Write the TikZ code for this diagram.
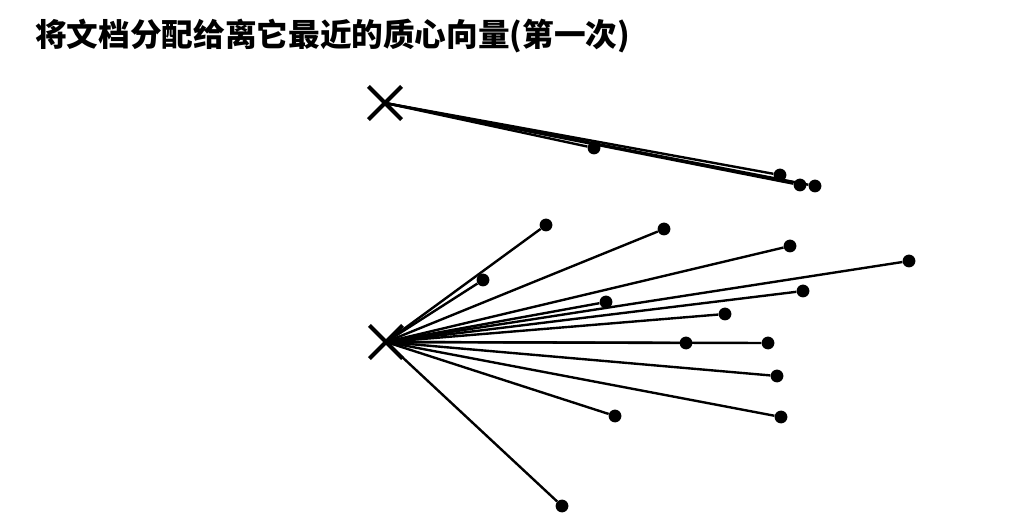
\documentclass[tikz,border=0pt]{standalone}
\usepackage{fontspec}
\newfontfamily\cjk{Noto Sans CJK SC}
\usetikzlibrary{shapes.misc}
\tikzset{
  doc/.style = {circle, fill = black, inner sep = 0pt, minimum size = 0.32cm},
  centroid/.style = {cross out, draw = black, line width = 3pt, inner sep = 0pt, minimum size = 0.72cm},
  link/.style = {line width = 1.7pt}
}
\begin{document}
\begin{tikzpicture}[x = 0.025cm, y = -0.025cm]
                    \useasboundingbox (0, 0) rectangle (1020, 530);
                    \node[anchor = base west, inner sep = 0pt] (title) at (35, 47)
                        {\cjk\bfseries\fontsize{22.5}{27}\selectfont 将文档分配给离它最近的质心向量(第一次)};

                    % first centroid and its documents
                    \node[centroid] (c1) at (385, 103) {};
                    \node[doc] (a1) at (594, 148) {};
                    \node[doc] (a2) at (780, 175) {};
                    \node[doc] (a3) at (800, 185) {};
                    \node[doc] (a4) at (815, 186) {};

                    \draw[link] (c1.center) -- (a1);
                    \draw[link] (c1.center) -- (a2);
                    \draw[link] (c1.center) -- (a3);
                    \draw[link] (c1.center) -- (a4);

                    % second centroid and its documents
                    \node[centroid] (c2) at (386, 342) {};
                    \node[doc] (b1)  at (546, 225) {};
                    \node[doc] (b2)  at (664, 229) {};
                    \node[doc] (b3)  at (790, 246) {};
                    \node[doc] (b4)  at (909, 261) {};
                    \node[doc] (b5)  at (483, 280) {};
                    \node[doc] (b6)  at (803, 291) {};
                    \node[doc] (b7)  at (606, 302) {};
                    \node[doc] (b8)  at (725, 314) {};
                    \node[doc] (b9)  at (686, 343) {};
                    \node[doc] (b10) at (768, 343) {};
                    \node[doc] (b11) at (777, 376) {};
                    \node[doc] (b12) at (781, 417) {};
                    \node[doc] (b13) at (615, 416) {};
                    \node[doc] (b14) at (562, 506) {};

                    \draw[link] (c2.center) -- (b1);
                    \draw[link] (c2.center) -- (b2);
                    \draw[link] (c2.center) -- (b3);
                    \draw[link] (c2.center) -- (b4);
                    \draw[link] (c2.center) -- (b5);
                    \draw[link] (c2.center) -- (b6);
                    \draw[link] (c2.center) -- (b7);
                    \draw[link] (c2.center) -- (b8);
                    \draw[link] (c2.center) -- (b9);
                    \draw[link] (c2.center) -- (b10);
                    \draw[link] (c2.center) -- (b11);
                    \draw[link] (c2.center) -- (b12);
                    \draw[link] (c2.center) -- (b13);
                    \draw[link] (c2.center) -- (b14);
                \end{tikzpicture}
\end{document}
